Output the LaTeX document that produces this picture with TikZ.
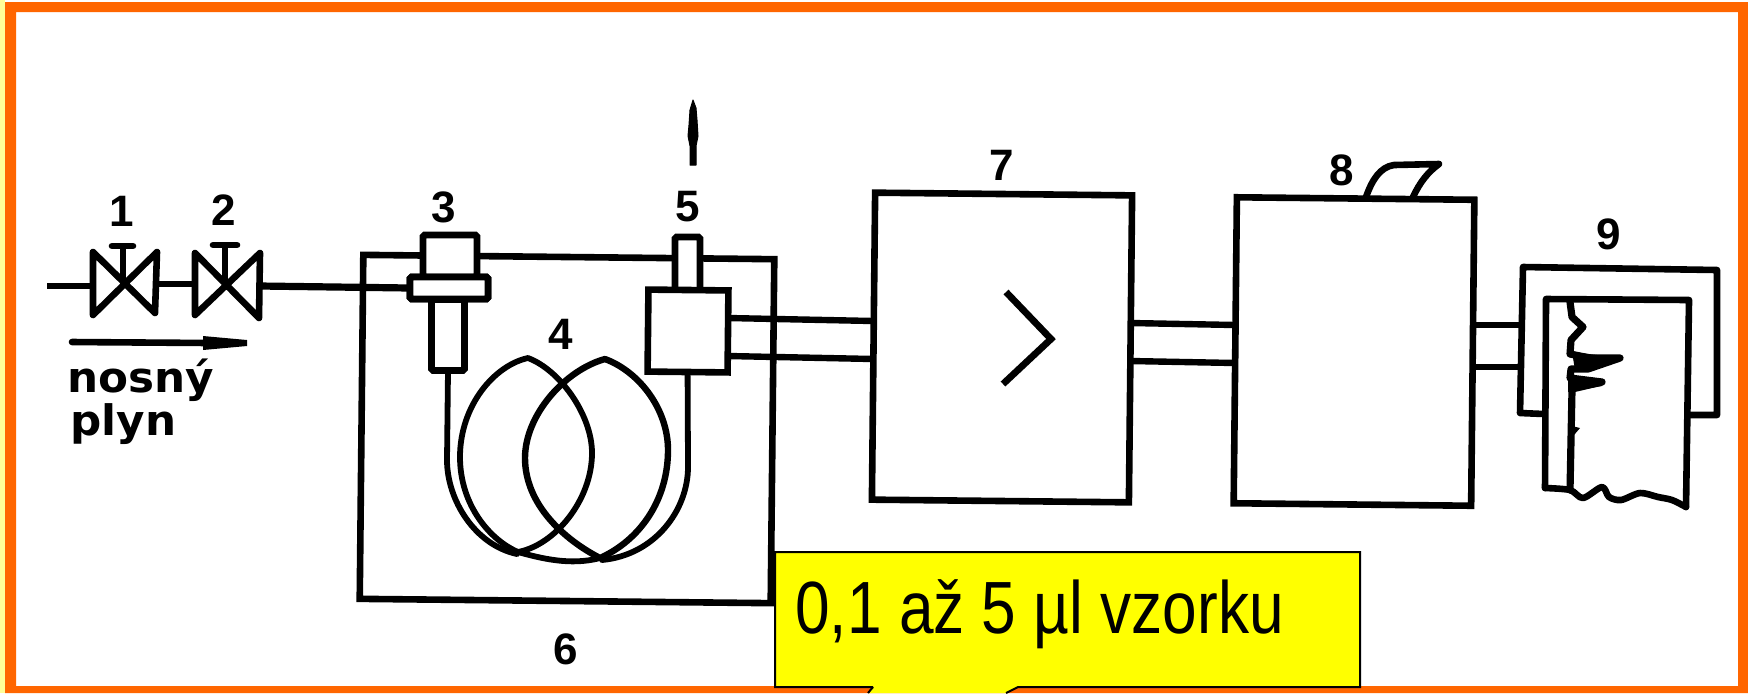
\documentclass[tikz,border=0pt]{standalone}
\usepackage{fontspec}
\usepackage{graphicx}
\setmainfont{Liberation Sans}
\newfontfamily\dejav{DejaVu Sans}
\definecolor{frameorange}{RGB}{255,102,0}
\definecolor{framepale}{RGB}{255,255,153}
\definecolor{calloutyellow}{RGB}{255,255,0}
\tikzset{
  ink/.style={line width=3.3pt,black,line join=round,line cap=round},
  pipe/.style={line width=3.2pt,black},
  tube/.style={line width=2.9pt,black,line join=round,line cap=round},
  boxnode/.style={draw=black,line width=3.3pt,fill=white,inner sep=0pt,outer sep=0pt,rotate=-0.6},
  partnode/.style={draw=black,line width=3.3pt,fill=white,inner sep=0pt,outer sep=0pt,rounded corners=0.8pt},
  numlabel/.style={font=\fontsize{22}{22}\selectfont\bfseries,inner sep=0pt,text=black},
  gaslabel/.style={font=\dejav\fontsize{21}{21}\selectfont\bfseries,inner sep=0pt,anchor=base west},
}
\begin{document}
\begin{tikzpicture}[x=0.5pt,y=-0.5pt]
\useasboundingbox (0,0) rectangle (1748,693);
% frame
\fill[white] (0,0) rectangle (1748,693);
\fill[framepale] (0,0) rectangle (5,693);
\fill[frameorange] (5,2) -- (1748,2) -- (1748,693) -- (5,693) -- cycle
  (16,12) -- (16,686) -- (1738,686) -- (1738,12) -- cycle;

% oven 6
\node[boxnode,minimum width=205.5pt,minimum height=172pt] (oven) at (567,429) {};

% carrier gas line and valves
\coordinate (gasin) at (47,286);
\coordinate (v1w) at (93,286);
\coordinate (v1e) at (157,284);
\coordinate (v2w) at (195,284);
\coordinate (v2e) at (260,286);
\node[partnode,minimum width=39pt,minimum height=11pt] (flange) at (449,288) {};
\draw[pipe] (gasin) -- (v1w);
\draw[pipe] (v1e) -- (v2w);
\draw[pipe,line width=3.6pt] (v2e) -- (flange.west);
\draw[ink] (93,252) -- (155,313) -- (157,252) -- (93,315) -- cycle;
\draw[ink] (123,283) -- (123,247) (112,246) -- (133,246);
\draw[ink] (195,253) -- (259,318) -- (260,253) -- (195,315) -- cycle;
\draw[ink] (225,285) -- (225,246) (213,245) -- (237,245);

% flow arrow
\coordinate (flowa) at (72,342);
\coordinate (flowb) at (210,343);
\draw[ink] (flowa) -- (flowb);
\fill[black,line join=round] (203,336) -- (247,340) -- (247,346) -- (203,350) -- cycle;
\node[gaslabel] (nosny) at (67,392) {\scalebox{1.04}[1]{nosný}};
\node[gaslabel] (plyn) at (70,435) {\scalebox{1.04}[1]{plyn}};

% injector 3
\node[partnode,minimum width=27pt,minimum height=21pt] (inj) at (450,256) {};
\node[partnode,minimum width=16.5pt,minimum height=35.5pt] (injlow) at (448,335) {};
\node[partnode,minimum width=39pt,minimum height=11pt] (flangetop) at (449,288) {};

% detector 5
\node[partnode,minimum width=12.5pt,minimum height=27pt] (det) at (687.5,264) {};
\node[boxnode,minimum width=40pt,minimum height=41pt] (b5) at (688,331) {};

% column tubes
\draw[tube] (injlow.south) -- (447,460) .. controls (447,500) and (475,545) .. (517,554);
\draw[tube] (b5.south) -- (688,467) .. controls (688,510) and (655,555) .. (602,560);
% column loops
\draw[tube] (528,358) .. controls (495,365) and (460,405) .. (460,457)
  .. controls (460,505) and (490,540) .. (518,552)
  .. controls (555,545) and (592,500) .. (592,453)
  .. controls (592,415) and (560,370) .. (528,358) -- cycle;
\draw[tube,line width=3.2pt] (605,359) .. controls (640,372) and (668,410) .. (668,450)
  .. controls (668,500) and (640,540) .. (600,558)
  .. controls (565,540) and (525,505) .. (525,458)
  .. controls (525,415) and (565,370) .. (605,359) -- cycle;
\coordinate (linka) at (518,552);
\coordinate (linkb) at (600,558);
\draw[tube] (linka) .. controls (540,558) and (570,566) .. (linkb);

% needle above 5
\fill[black,draw=black,line width=0.5pt,line join=round] (693,100) -- (690,110) -- (689,125) -- (688,136) -- (690,146) -- (690,165) -- (696,165) -- (696,146) -- (698,136) -- (697,120) -- (696,108) -- cycle;

% amplifier 7
\node[boxnode,minimum width=128.5pt,minimum height=153.5pt] (b7) at (1002,347.5) {};
\coordinate (chev1) at (1006,292);
\coordinate (chev2) at (1051,339);
\coordinate (chev3) at (1003,384);
\draw[ink,line width=3.4pt,line join=miter,line cap=butt] (chev1) -- (chev2) -- (chev3);

% integrator 8
\node[boxnode,minimum width=118.75pt,minimum height=153pt] (b8) at (1354,351.5) {};
\draw[ink] (1366,197) .. controls (1372,180) and (1380,167) .. (1394,165) -- (1439,164) .. controls (1428,172) and (1420,182) .. (1413,197);

% recorder 9
\coordinate (u1) at (1544,414);
\coordinate (u2) at (1689,415);
\draw[ink] (u1) -- (1520,413) -- (1523,267) -- (1717,270) -- (1717,415) -- (u2);
\fill[white] (1546,299) -- (1689,300) -- (1686,507) -- (1640,493) -- (1570,490) -- (1545,488) -- cycle;
\draw[ink] (1545,488) -- (1546,299) -- (1689,300) -- (1686,507);
\draw[ink] plot[smooth,tension=0.5] coordinates {(1686,507) (1672,500) (1658,497) (1640,493) (1621,500) (1609,497) (1602,487) (1583,498) (1570,490) (1545,488)};
\draw[ink,line width=3.6pt] (1570,302) -- (1572,317) -- (1583,327) -- (1571,340) -- (1570,354) -- (1590,358) -- (1620,358) -- (1588,369) -- (1571,369) -- (1570,378) -- (1602,382) -- (1572,389) -- (1570,490);
\fill[black] (1572,352) -- (1622,358) -- (1590,370) -- (1575,370) -- cycle;
\fill[black] (1568,375) -- (1603,379) -- (1602,386) -- (1568,392) -- cycle;
\fill[black] (1568,425) -- (1580,428) -- (1574,435) -- (1568,436) -- cycle;

% pipes between units
\draw[pipe] (b5.east |- 0,318) -- (b7.west |- 0,321);
\draw[pipe] (b5.east |- 0,356) -- (b7.west |- 0,359);
\draw[pipe] (b7.east |- 0,323) -- (b8.west |- 0,325);
\draw[pipe] (b7.east |- 0,361) -- (b8.west |- 0,363);
\coordinate (rec1) at (1521,325);
\coordinate (rec2) at (1521,367);
\draw[pipe] (b8.east |- rec1) -- (rec1);
\draw[pipe] (b8.east |- rec2) -- (rec2);

% number labels
\node[numlabel] (n1) at (122,211) {1};
\node[numlabel] (n2) at (224,210) {2};
\node[numlabel] (n3) at (444,207) {3};
\node[numlabel] (n4) at (561,334) {4};
\node[numlabel] (n5) at (688,207) {5};
\node[numlabel] (n6) at (566,649) {6};
\node[numlabel] (n7) at (1002,165) {7};
\node[numlabel] (n8) at (1342,170) {8};
\node[numlabel] (n9) at (1609,234) {9};

% callout
\fill[calloutyellow] (775,552) -- (1360,552) -- (1360,687) -- (1018,687) -- (1006,693) -- (868,693) -- (873,687) -- (775,687) -- cycle;
\draw[black,line width=1pt,line join=miter] (873,687) -- (775,687) -- (775,552) -- (1360,552) -- (1360,687) -- (1018,687) -- (1006,693);
\draw[black,line width=1pt] (873,687) -- (868,693);
\node[inner sep=0pt,anchor=base west,font=\fontsize{37}{37}\selectfont] (vzorek) at (795,633) {\scalebox{0.84}[1]{0,1 až 5 µl vzorku}};
\end{tikzpicture}
\end{document}
